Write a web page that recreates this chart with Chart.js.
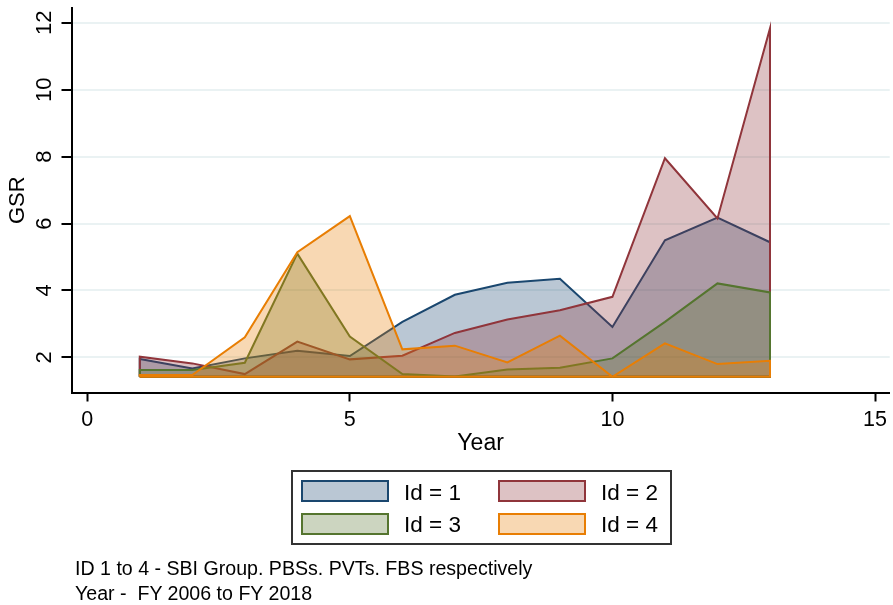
<!DOCTYPE html>
<html>
<head>
<meta charset="utf-8">
<title>GSR by Year</title>
<script src="https://cdn.jsdelivr.net/npm/chart.js@4.4.1/dist/chart.umd.min.js"></script>
<style>
  body { margin: 0; background: #fff; }
  #wrap { position: relative; width: 893px; height: 605px; font-family: "Liberation Sans", Arial, sans-serif; color: #000; }
  #grafico { position: absolute; left: 0; top: 0; }
  .caja { position: absolute; left: 291px; top: 470px; width: 381px; height: 75px; box-sizing: border-box; border: 2px solid #333; }
  .muestra { position: absolute; width: 88px; height: 22px; box-sizing: border-box; border: 2px solid; }
  .etiqueta { position: absolute; font-size: 22.5px; line-height: 1; white-space: nowrap; }
  .nota { position: absolute; left: 75px; font-size: 19.6px; line-height: 1; white-space: nowrap; }
</style>
</head>
<body>
<div id="wrap">
  <canvas id="grafico" width="893" height="605"></canvas>
  <div class="caja"></div>
  <div id="leyenda"></div>
  <div class="nota" style="top:559px">ID 1 to 4 - SBI Group. PBSs. PVTs. FBS respectively</div>
  <div class="nota" style="top:583.5px">Year -&nbsp; FY 2006 to FY 2018</div>
</div>
<script>
// DATOS
const years = [1, 2, 3, 4, 5, 6, 7, 8, 9, 10, 11, 12, 13];
const id1 = [1.95, 1.67, 1.97, 2.20, 2.04, 3.06, 3.87, 4.23, 4.35, 2.91, 5.50, 6.18, 5.44];
const id2 = [2.02, 1.82, 1.50, 2.47, 1.94, 2.05, 2.73, 3.13, 3.41, 3.81, 7.95, 6.15, 11.83];
const id3 = [1.62, 1.62, 1.84, 5.10, 2.62, 1.50, 1.43, 1.64, 1.69, 1.97, 3.06, 4.21, 3.94];
const id4 = [1.47, 1.47, 2.60, 5.14, 6.22, 2.24, 2.35, 1.85, 2.65, 1.42, 2.42, 1.80, 1.90];
const seriesNames = ["Id = 1", "Id = 2", "Id = 3", "Id = 4"];
const xTicks = [0, 5, 10, 15];
const yTicks = [2, 4, 6, 8, 10, 12];

const colores = ["26,71,111", "144,53,59", "85,117,47", "232,126,4"];
const fuente = "'Liberation Sans', Arial, sans-serif";
const series = [id1, id2, id3, id4];

// base del area = minimo de los datos (como stata)
const base = Math.min(...series.flat());

// poligono cerrado para que el borde rodee el area
function poligono(vals) {
  const pts = years.map((x, i) => ({ x: x, y: vals[i] }));
  const ini = { x: years[0], y: base };
  const fin = { x: years[years.length - 1], y: base };
  return [ini].concat(pts, [fin, ini]);
}

const datasets = series.map((vals, i) => ({
  label: seriesNames[i],
  data: poligono(vals),
  borderColor: `rgb(${colores[i]})`,
  backgroundColor: `rgba(${colores[i]},0.3)`,
  borderWidth: 2,
  borderJoinStyle: "miter",
  fill: "shape",
  tension: 0,
  pointRadius: 0,
  order: series.length - i,
}));

// etiquetas del eje Y giradas
const etiquetasY = {
  id: "etiquetasY",
  afterDraw(chart) {
    const s = chart.scales.y;
    const ctx = chart.ctx;
    ctx.save();
    ctx.font = `22px ${fuente}`;
    ctx.fillStyle = "#000";
    ctx.textAlign = "center";
    ctx.textBaseline = "middle";
    s.ticks.forEach((t) => {
      ctx.save();
      ctx.translate(44.5, s.getPixelForValue(t.value));
      ctx.rotate(-Math.PI / 2);
      ctx.fillText(String(t.value), 0, 0);
      ctx.restore();
    });
    ctx.restore();
  },
};

new Chart(document.getElementById("grafico"), {
  type: "line",
  data: { datasets },
  plugins: [etiquetasY],
  options: {
    responsive: false,
    animation: false,
    layout: { padding: { top: 8, right: 2, bottom: 147.5, left: 0 } },
    plugins: { legend: { display: false }, tooltip: { enabled: false } },
    scales: {
      x: {
        type: "linear",
        min: -0.3,
        max: 15.28,
        afterBuildTicks: (s) => { s.ticks = xTicks.map((v) => ({ value: v })); },
        afterFit: (s) => { s.height = 65; },
        ticks: { font: { family: fuente, size: 21.5 }, color: "#000", padding: 6, maxRotation: 0, autoSkip: false },
        grid: { drawOnChartArea: false, tickLength: 9, tickColor: "#000", tickWidth: 2 },
        border: { color: "#000", width: 2 },
        title: { display: true, text: "Year", color: "#000", font: { family: fuente, size: 23 }, padding: 0 },
      },
      y: {
        type: "linear",
        min: 0.95,
        max: 12.44,
        afterBuildTicks: (s) => { s.ticks = yTicks.map((v) => ({ value: v })); },
        afterFit: (s) => { s.width = 71.5; },
        ticks: { display: false },
        grid: { color: "rgb(234,242,243)", lineWidth: 2, tickLength: 10, tickColor: "#000", tickWidth: 2 },
        border: { color: "#000", width: 2 },
        title: { display: true, text: "GSR", color: "#000", font: { family: fuente, size: 22 }, padding: { top: 4.6, bottom: 0 } },
      },
    },
  },
});

// LEYENDA
const leyenda = document.getElementById("leyenda");
const colX = [301, 498];
const filaY = [480, 512.5];
seriesNames.forEach((nombre, i) => {
  const c = colX[i % 2];
  const f = filaY[Math.floor(i / 2)];
  const m = document.createElement("div");
  m.className = "muestra";
  m.style.left = c + "px";
  m.style.top = f + "px";
  m.style.borderColor = `rgb(${colores[i]})`;
  m.style.background = `rgba(${colores[i]},0.3)`;
  leyenda.appendChild(m);
  const e = document.createElement("div");
  e.className = "etiqueta";
  e.style.left = c + 103 + "px";
  e.style.top = f + 1.8 + "px";
  e.textContent = nombre;
  leyenda.appendChild(e);
});
</script>
</body>
</html>
